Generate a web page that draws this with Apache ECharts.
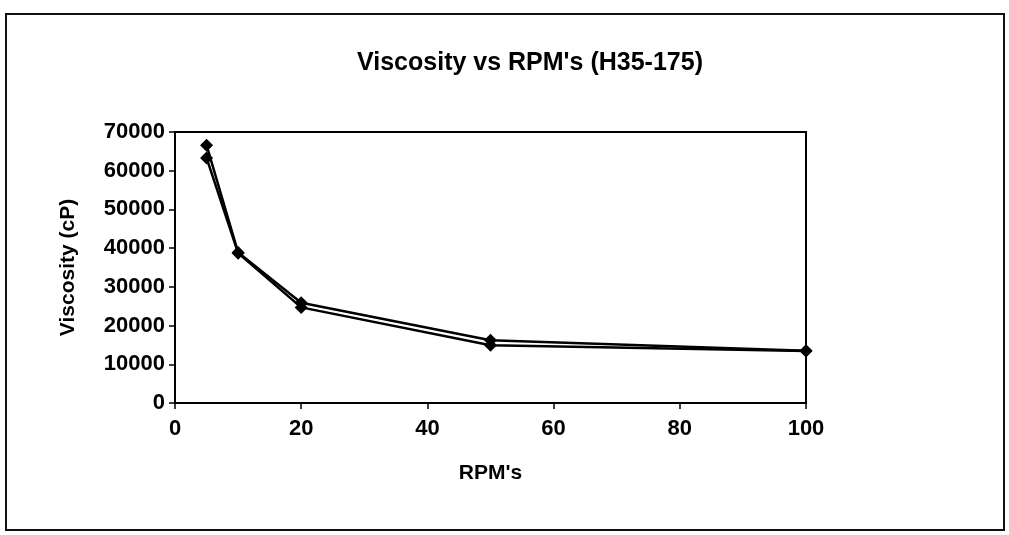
<!DOCTYPE html>
<html>
<head>
<meta charset="utf-8">
<script src="https://cdn.jsdelivr.net/npm/echarts@6/dist/echarts.min.js"></script>
<style>
  html, body { margin: 0; padding: 0; background: #fff; }
  #chart { width: 1009px; height: 535px; }
</style>
</head>
<body>
<div id="chart"></div>
<script>
// values
var rpm = [5, 10, 20, 50, 100];
var viscosityUp = [66600, 38900, 25900, 16200, 13500];
var viscosityDown = [63300, 38700, 24700, 14900, 13400];
var xTicks = [0, 20, 40, 60, 80, 100];
var yTicks = [0, 10000, 20000, 30000, 40000, 50000, 60000, 70000];

function pairs(xs, ys) {
    return xs.map(function (x, i) { return [x, ys[i]]; });
}

var myChart = echarts.init(document.getElementById('chart'));
var font = 'Liberation Sans, Arial, sans-serif';

var lineSeries = function (name, values) {
    return {
        name: name,
        type: 'line',
        data: pairs(rpm, values),
        symbol: 'diamond',
        symbolSize: 13,
        showAllSymbol: true,
        itemStyle: {color: '#000'},
        lineStyle: {color: '#000', width: 2.5},
        animation: false
    };
};

myChart.setOption({
    backgroundColor: '#fff',
    animation: false,
    title: {
        text: "Viscosity vs RPM's (H35-175)",
        left: 525,
        textAlign: 'center',
        top: 46,
        textStyle: {fontFamily: font, fontSize: 25, fontWeight: 'bold', color: '#000'}
    },
    graphic: [{
        type: 'rect',
        shape: {x: 6, y: 14, width: 998, height: 516},
        style: {fill: 'none', stroke: '#111', lineWidth: 2},
        silent: true
    }],
    grid: {
        left: 175, right: 203, top: 132, bottom: 132,
        show: true, borderColor: '#000', borderWidth: 2, backgroundColor: 'transparent'
    },
    xAxis: {
        type: 'value',
        min: xTicks[0],
        max: xTicks[xTicks.length - 1],
        interval: xTicks[1] - xTicks[0],
        name: "RPM's",
        nameLocation: 'middle',
        nameGap: 60,
        nameTextStyle: {fontFamily: font, fontSize: 21, fontWeight: 'bold', color: '#000'},
        axisLine: {lineStyle: {color: '#000', width: 2}},
        axisTick: {show: true, length: 6, lineStyle: {color: '#000', width: 1.5}},
        axisLabel: {fontFamily: font, fontSize: 22, fontWeight: 'bold', color: '#000', margin: 15},
        splitLine: {show: false}
    },
    yAxis: {
        type: 'value',
        min: yTicks[0],
        max: yTicks[yTicks.length - 1],
        interval: yTicks[1] - yTicks[0],
        name: 'Viscosity (cP)',
        nameLocation: 'middle',
        nameGap: 96,
        nameTextStyle: {fontFamily: font, fontSize: 21, fontWeight: 'bold', color: '#000'},
        axisLine: {show: true, lineStyle: {color: '#000', width: 2}},
        axisTick: {show: true, length: 6, lineStyle: {color: '#000', width: 1.5}},
        axisLabel: {
            fontFamily: font, fontSize: 22, fontWeight: 'bold', color: '#000', margin: 10,
            formatter: function (v) { return String(v); }
        },
        splitLine: {show: false}
    },
    series: [
        lineSeries('Up', viscosityUp),
        lineSeries('Down', viscosityDown)
    ]
});
</script>
</body>
</html>
